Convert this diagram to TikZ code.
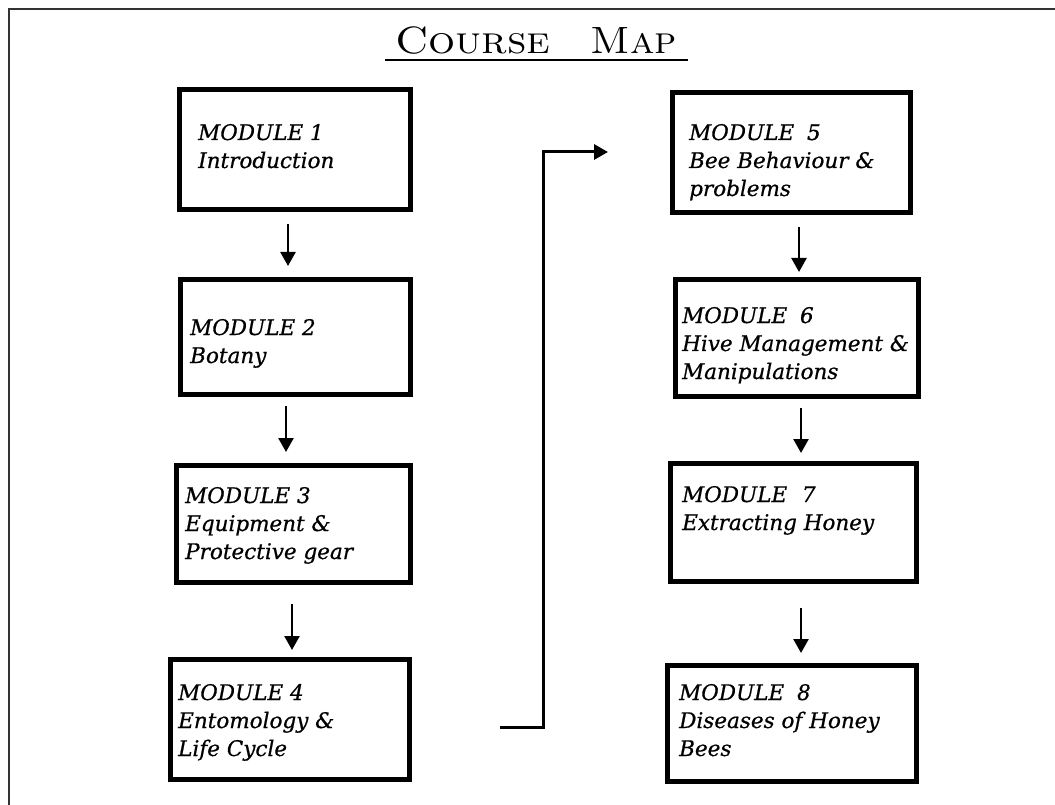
\documentclass[tikz,border=0pt]{standalone}
\usepackage{fontspec}
\usepackage{graphicx}
\usetikzlibrary{arrows.meta,calc}
\newfontfamily\boxfont{DejaVu Serif}[FakeBold=0.7]
\begin{document}
\begin{tikzpicture}[x=1pt,y=-1pt,
  box/.style={draw, line width=5pt, inner sep=0pt},
  lbl/.style={anchor=base west, inner sep=0pt, font=\boxfont\itshape\fontsize{21.5}{28}\selectfont},
  arr/.style={line width=2.5pt, -{Triangle[width=15pt,length=14pt]}},
  conn/.style={line width=3pt, line join=miter, -{Triangle[width=15pt,length=14pt]}},
  frame/.style={line width=2pt, black!80}
]
\useasboundingbox (0,0) rectangle (1055,805);
% frame
\coordinate (f1) at (9,805);
\coordinate (f2) at (9,9);
\coordinate (f3) at (1055,9);
\draw[frame] (f1) -- (f2) -- (f3);
% title
\node[anchor=base, inner sep=0pt] (title) at (536,54)
  {\fontsize{38}{38}\selectfont\scalebox{1.12}[1]{\textsc{Course}}\hspace{40pt}\scalebox{1.05}[1]{\textsc{Map}}};
\coordinate (u1) at (385,60);
\coordinate (u2) at (688,60);
\draw[line width=2.2pt] (u1) -- (u2);
% boxes
\node[box, minimum width=231pt, minimum height=120pt] (b1) at (295,149.5) {};
\node[box, minimum width=230pt, minimum height=115pt] (b2) at (295.5,337) {};
\node[box, minimum width=234pt, minimum height=117pt] (b3) at (293.5,524) {};
\node[box, minimum width=239pt, minimum height=120pt] (b4) at (290,719.5) {};
\node[box, minimum width=238pt, minimum height=120pt] (b5) at (791.5,152.5) {};
\node[box, minimum width=243pt, minimum height=117pt] (b6) at (797,338) {};
\node[box, minimum width=246pt, minimum height=118pt] (b7) at (793.5,522.5) {};
\node[box, minimum width=249pt, minimum height=116pt] (b8) at (792,723.5) {};
% labels
\node[lbl] (t1) at (198,140) {\begin{tabular}[t]{@{}l@{}}MODULE 1\\ Introduction\end{tabular}};
\node[lbl] (t2) at (190,335) {\begin{tabular}[t]{@{}l@{}}MODULE 2\\ Botany\end{tabular}};
\node[lbl] (t3) at (185,503) {\begin{tabular}[t]{@{}l@{}}MODULE 3\\ Equipment \&\\ Protective gear\end{tabular}};
\node[lbl] (t4) at (178,700) {\begin{tabular}[t]{@{}l@{}}MODULE 4\\ Entomology \&\\ Life Cycle\end{tabular}};
\node[lbl] (t5) at (689,140) {\begin{tabular}[t]{@{}l@{}}MODULE \hspace{6pt}5\\ Bee Behaviour \&\\ problems\end{tabular}};
\node[lbl] (t6) at (682,323) {\begin{tabular}[t]{@{}l@{}}MODULE \hspace{6pt}6\\ Hive Management \&\\ Manipulations\end{tabular}};
\node[lbl] (t7) at (682,502) {\begin{tabular}[t]{@{}l@{}}MODULE \hspace{8pt}7\\ Extracting Honey\end{tabular}};
\node[lbl] (t8) at (679,700) {\begin{tabular}[t]{@{}l@{}}MODULE \hspace{6pt}8\\ Diseases of Honey\\ Bees\end{tabular}};
% arrows
\coordinate (a12) at ($(b1.south)+(-7,12)$);
\coordinate (e12) at ($(b2.north)+(0,-11)$);
\draw[arr] (a12) -- (a12 |- e12);
\coordinate (a23) at ($(b2.south)+(-9.5,9)$);
\coordinate (e23) at ($(b3.north)+(0,-11)$);
\draw[arr] (a23) -- (a23 |- e23);
\coordinate (a34) at ($(b3.south)+(-1.5,19)$);
\coordinate (e34) at ($(b4.north)+(0,-7)$);
\draw[arr] (a34) -- (a34 |- e34);
\coordinate (a56) at ($(b5.south)+(7.5,12)$);
\coordinate (e56) at ($(b6.north)+(0,-5)$);
\draw[arr] (a56) -- (a56 |- e56);
\coordinate (a67) at ($(b6.south)+(4,9)$);
\coordinate (e67) at ($(b7.north)+(0,-8)$);
\draw[arr] (a67) -- (a67 |- e67);
\coordinate (a78) at ($(b7.south)+(7.5,24)$);
\coordinate (e78) at ($(b8.north)+(0,-10)$);
\draw[arr] (a78) -- (a78 |- e78);
% connector from module 4 column to module 5 column
\coordinate (c4) at ($(b4.east)+(88,7.5)$);
\coordinate (c5) at ($(b5.west)+(-62,-0.5)$);
\coordinate (cx) at (543,0);
\draw[conn] (c4) -- (c4 -| cx) -- (cx |- c5) -- (c5);
\end{tikzpicture}
\end{document}
